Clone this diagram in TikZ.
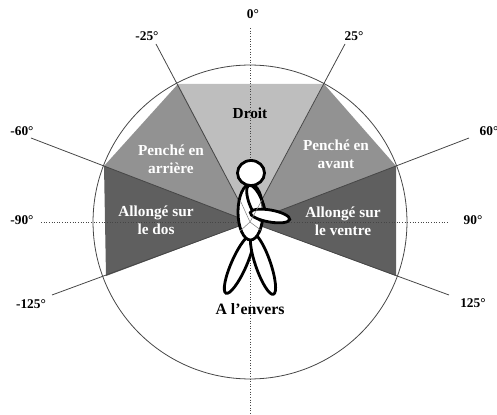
\documentclass[tikz,border=0pt]{standalone}
\usepackage{fontspec}
\setmainfont{Liberation Serif}
\definecolor{upright}{RGB}{190, 190, 190}
\definecolor{leaning}{RGB}{146, 146, 146}
\definecolor{lying}{RGB}{95, 95, 95}
\definecolor{spoke}{RGB}{70, 70, 70}
\begin{document}
\begin{tikzpicture}[
        x=0.02cm, y=-0.02cm,
        deg/.style={font=\fontsize{7.6}{9}\selectfont\bfseries, inner sep=0pt},
        zone/.style={font=\fontsize{8.7}{10}\selectfont\bfseries, align=center, inner sep=0pt, text=white},
        spokeline/.style={draw=spoke, line width=0.45pt},
        axisline/.style={draw=spoke, line width=0.5pt, densely dotted},
        limb/.style={draw=black, line width=1.6pt, fill=white}
    ]
    \useasboundingbox (0, 0) rectangle (497, 415);

    \coordinate (hub) at (250, 222);

    % sectors
    \fill[upright] (178, 84) -- (324, 84) -- (hub) -- cycle;
    \fill[leaning] (178, 84) -- (104, 166) -- (hub) -- cycle;
    \fill[leaning] (324, 84) -- (396, 166) -- (hub) -- cycle;
    \fill[lying] (104, 166) -- (106, 276) -- (hub) -- cycle;
    \fill[lying] (396, 166) -- (396, 276) -- (hub) -- cycle;

    \draw[spokeline] (hub) circle [radius=3.14cm];

    % angle labels
    \node[deg] (a0) at (253, 14) {0°};
    \node[deg] (am25) at (147, 36) {-25°};
    \node[deg] (a25) at (354, 36) {25°};
    \node[deg] (am60) at (22, 131) {-60°};
    \node[deg] (a60) at (489, 131) {60°};
    \node[deg] (am90) at (22, 220) {-90°};
    \node[deg] (a90) at (473, 220) {90°};
    \node[deg] (am125) at (31, 304) {-125°};
    \node[deg] (a125) at (473, 303) {125°};

    \coordinate (e0) at (250, 28);
    \coordinate (e180) at (250, 415);
    \coordinate (em25) at (156, 44);
    \coordinate (e25) at (345, 44);
    \coordinate (em60) at (31, 138);
    \coordinate (e60) at (469, 138);
    \coordinate (em90) at (41, 222);
    \coordinate (e90) at (449, 222);
    \coordinate (em125) at (52, 295);
    \coordinate (e125) at (449, 295);

    \draw[axisline] (e0) -- (e180);
    \draw[axisline] (em90) -- (e90);
    \draw[spokeline] (em25) -- (hub);
    \draw[spokeline] (e25) -- (hub);
    \draw[spokeline] (em60) -- (hub);
    \draw[spokeline] (e60) -- (hub);
    \draw[spokeline] (em125) -- (hub);
    \draw[spokeline] (e125) -- (hub);

    % walker
    \draw[limb, rotate around={-24:(239, 264)}] (239, 264) ellipse [x radius=7.5, y radius=32];
    \draw[limb, rotate around={19:(263, 264)}] (263, 264) ellipse [x radius=7.5, y radius=32];
    \draw[limb] (250.5, 212) ellipse [x radius=12.5, y radius=28];
    \draw[limb] (251, 173) ellipse [x radius=13.5, y radius=12.5];
    \draw[limb, fill opacity=0.4, rotate around={22:(256, 203)}] (256, 203) ellipse [x radius=6.5, y radius=19];
    \draw[limb, rotate around={-10:(270, 216)}] (270, 216) ellipse [x radius=20, y radius=6];
    \draw[draw=gray, line width=0.3pt] (hub) -- (240, 200) (hub) -- (262, 200) (hub) -- (240, 231) (hub) -- (262, 231);

    % zones
    \node[zone, text=black] (droit) at (250, 113) {Droit};
    \node[zone] (arriere) at (171, 159) {Penché en\\arrière};
    \node[zone] (avant) at (336, 154) {Penché en\\avant};
    \node[zone] (dos) at (156, 220) {Allongé sur\\le dos};
    \node[zone] (ventre) at (343, 221) {Allongé sur\\le ventre};
    \node[zone, text=black, font=\fontsize{9}{10}\selectfont\bfseries] (envers) at (250, 309) {A l’envers};
\end{tikzpicture}
\end{document}
